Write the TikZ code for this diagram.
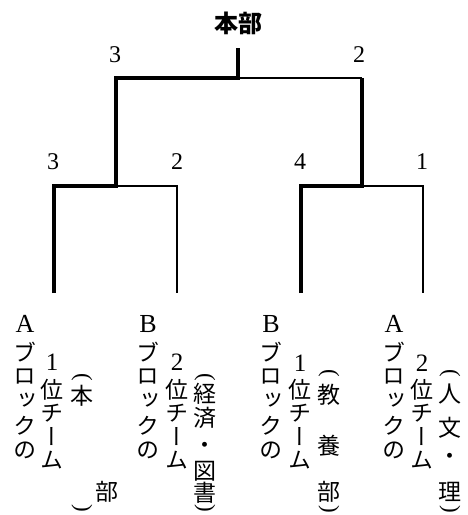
\documentclass[tikz,border=0pt]{standalone}
\usepackage{fontspec}
\setmainfont{Liberation Serif}
\newfontfamily\jp{Noto Sans CJK JP}
\newfontfamily\jpv[RawFeature=+vert]{Noto Sans CJK JP}
\begin{document}
\begin{tikzpicture}[x=1pt,y=-1pt,
  thickln/.style={line width=3.8pt,line join=miter},
  thinln/.style={line width=1.2pt},
  jv/.style={font=\jpv\fontsize{23}{23}\selectfont,inner sep=0pt},
  par/.style={font=\fontsize{23}{23}\selectfont,inner sep=0pt,rotate=-90},
  lat/.style={font=\fontsize{26}{26}\selectfont,inner sep=0pt},
  rank/.style={font=\fontsize{25}{25}\selectfont,inner sep=0pt},
  num/.style={font=\fontsize{24}{24}\selectfont,inner sep=0pt},
  title/.style={font=\jp\bfseries\fontsize{24}{24}\selectfont,inner sep=0pt}]
\useasboundingbox (0,0) rectangle (468,515);
% bracket coordinates
\coordinate (top) at (238,48);
\coordinate (m) at (238,78);
\coordinate (L) at (116,78);
\coordinate (R) at (362,78);
\coordinate (Lm) at (116,186);
\coordinate (Rm) at (362,186);
\coordinate (l1t) at (54,186);  \coordinate (l1) at (54,293);
\coordinate (l2t) at (177,186); \coordinate (l2) at (177,293);
\coordinate (l3t) at (301,186); \coordinate (l3) at (301,293);
\coordinate (l4t) at (423,186); \coordinate (l4) at (423,293);
% thin lines
\draw[thinln] (Lm) -- (l2t) -- (l2);
\draw[thinln] (m) -- (R);
\draw[thinln] (Rm) -- (l4t) -- (l4);
% thick winners
\draw[thickln] (l1) -- (l1t) -- (Lm) -- (L) -- (m) -- (top);
\draw[thickln] (l3) -- (l3t) -- (Rm) -- (R);
% title and scores
\node[title] (hq) at (238,23) {本部};
\node[num] (s1) at (115,55) {3};
\node[num] (s2) at (359,55) {2};
\node[num] (s3) at (53,162) {3};
\node[num] (s4) at (177,162) {2};
\node[num] (s5) at (300,162) {4};
\node[num] (s6) at (422,162) {1};
% block columns
\node[lat] (a1-0) at (25,324) {A};
\node[lat] (b1-0) at (148,324) {B};
\node[lat] (c1-0) at (271,324) {B};
\node[lat] (d1-0) at (394,324) {A};
\foreach \nm/\xx in {a1/25,b1/148,c1/271,d1/394}{
  \foreach \ch [count=\i] in {ブ,ロ,ッ,ク,の}
    \node[jv] (\nm-\i) at (\xx,{352+24.5*(\i-1)}) {\ch};
}
\node[rank] (a2-0) at (52,362) {1};
\node[rank] (b2-0) at (177,362) {2};
\node[rank] (c2-0) at (300,363) {1};
\node[rank] (d2-0) at (422,363) {2};
\foreach \nm/\xx in {a2/52,b2/177,c2/300,d2/422}{
  \foreach \ch [count=\i] in {位,チ,ー,ム}
    \node[jv] (\nm-\i) at (\xx,{390+23.5*(\i-1)}) {\ch};
}
% parenthesised names
\node[par] (a3-1) at (82,377) {(};
\node[jv] (a3-2) at (82,396) {本};
\node[jv] (a3-3) at (107,492) {部};
\node[par] (a3-4) at (82,508) {)};
\node[par] (b3-1) at (205,377) {(};
\foreach \ch/\yy [count=\i from 2] in {経/394,済/418,・/448,図/471,書/493}
  \node[jv] (b3-\i) at (205,\yy) {\ch};
\node[par] (b3-7) at (205,508) {)};
\node[par] (c3-1) at (329,373) {(};
\foreach \ch/\yy [count=\i from 2] in {教/395,養/446,部/492}
  \node[jv] (c3-\i) at (329,\yy) {\ch};
\node[par] (c3-5) at (329,509) {)};
\node[par] (d3-1) at (450,373) {(};
\foreach \ch/\yy [count=\i from 2] in {人/394,文/428,・/459,理/492}
  \node[jv] (d3-\i) at (450,\yy) {\ch};
\node[par] (d3-6) at (450,509) {)};
\end{tikzpicture}
\end{document}
